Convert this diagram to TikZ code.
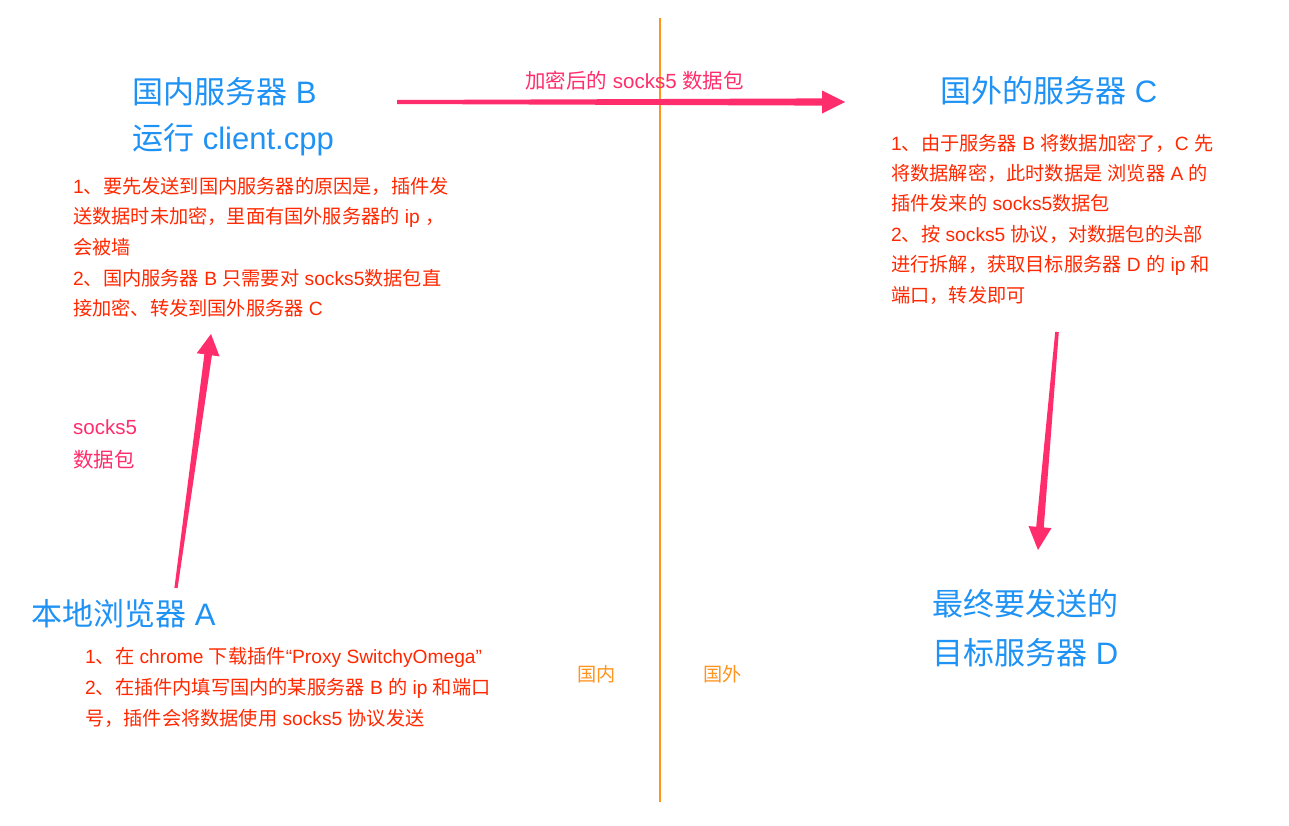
\documentclass[tikz,border=0pt]{standalone}
\usepackage{fontspec}
\setmainfont{Noto Sans CJK SC}
\newfontfamily\lat{Liberation Sans}
\newcommand\la[1]{{\lat #1}}
\usetikzlibrary{calc}
\definecolor{tblue}{RGB}{30,146,245}
\definecolor{tred}{RGB}{255,40,0}
\definecolor{tpink}{RGB}{255,45,108}
\definecolor{torange}{RGB}{255,148,30}
\newcommand\taperarrow[6]{% tail, head, tail half width, base half width, head length, head half width
  \coordinate (hb) at ($(#2)!#5!(#1)$);
  \fill[tpink] ($(#1)!#3!90:(#2)$) -- ($(hb)!#4!-90:(#1)$) -- ($(hb)!#6!-90:(#1)$) -- (#2)
    -- ($(hb)!#6!90:(#1)$) -- ($(hb)!#4!90:(#1)$) -- ($(#1)!#3!-90:(#2)$) -- cycle;}
\begin{document}
\begin{tikzpicture}[x=1pt,y=-1pt,
  title/.style={anchor=west,inner sep=0pt,text=tblue,font=\fontsize{31}{36}\selectfont},
  note/.style={anchor=west,inner sep=0pt,text=tred,font=\fontsize{19.2}{22}\selectfont},
  plabel/.style={anchor=west,inner sep=0pt,text=tpink,font=\fontsize{20.5}{23}\selectfont},
  olabel/.style={anchor=west,inner sep=0pt,text=torange,font=\fontsize{19.2}{22}\selectfont}]
\useasboundingbox[fill=white] (0,0) rectangle (1289,825);
% border line
\coordinate (lt) at (660,18);
\coordinate (lb) at (660,802);
\draw[torange,line width=2.8pt] (lt) -- (lb);
% titles
\node[title] (B1) at (132,92) {国内服务器\la{ B}};
\node[title] (B2) at (132,140) {运行\la{ client.cpp}};
\node[title] (C1) at (940,91) {国外的服务器\la{ C}};
\node[title] (A1) at (31,614) {本地浏览器\la{ A}};
\node[title] (D1) at (932,604) {最终要发送的};
\node[title] (D2) at (932,653) {目标服务器\la{ D}};
% notes B
\node[note] (b1) at (73,186) {\la{1}、要先发送到国内服务器的原因是，插件发};
\node[note] (b2) at (73,217) {送数据时未加密，里面有国外服务器的\la{ ip }，};
\node[note] (b3) at (73,247) {会被墙};
\node[note] (b4) at (73,278) {\la{2}、国内服务器\la{ B }只需要对\la{ socks5}数据包直};
\node[note] (b5) at (73,308) {接加密、转发到国外服务器\la{ C}};
% notes C
\node[note] (c1) at (891,143) {\la{1}、由于服务器\la{ B }将数据加密了，\la{C }先};
\node[note] (c2) at (891,173) {将数据解密，此时数据是\la{ }浏览器\la{ A }的};
\node[note] (c3) at (891,203) {插件发来的\la{ socks5}数据包};
\node[note] (c4) at (891,234) {\la{2}、按\la{ socks5 }协议，对数据包的头部};
\node[note] (c5) at (891,265) {进行拆解，获取目标服务器\la{ D }的\la{ ip }和};
\node[note] (c6) at (891,295) {端口，转发即可};
% notes A
\node[note] (a1) at (85,657) {\la{1}、在\la{ chrome }下载插件\la{“Proxy SwitchyOmega”}};
\node[note] (a2) at (85,688) {\la{2}、在插件内填写国内的某服务器\la{ B }的\la{ ip }和端口};
\node[note] (a3) at (85,718) {号，插件会将数据使用\la{ socks5 }协议发送};
% pink labels
\node[plabel] (p1) at (73,427) {\la{socks5}};
\node[plabel] (p2) at (73,460) {数据包};
\node[plabel] (ptop) at (525,81) {加密后的\la{ socks5 }数据包};
% orange labels
\node[olabel] (o1) at (577,674) {国内};
\node[olabel] (o2) at (703,674) {国外};
% arrows
\coordinate (ta) at (397,102);
\coordinate (ha) at (845,102);
\taperarrow{ta}{ha}{2pt}{3.6pt}{23pt}{11.5pt}
\coordinate (tu) at (176,588);
\coordinate (hu) at (211,334);
\taperarrow{tu}{hu}{1.6pt}{3.8pt}{21pt}{11.5pt}
\coordinate (td) at (1057,332);
\coordinate (hd) at (1038,550);
\taperarrow{td}{hd}{1.8pt}{3.8pt}{23pt}{11.5pt}
\end{tikzpicture}
\end{document}
